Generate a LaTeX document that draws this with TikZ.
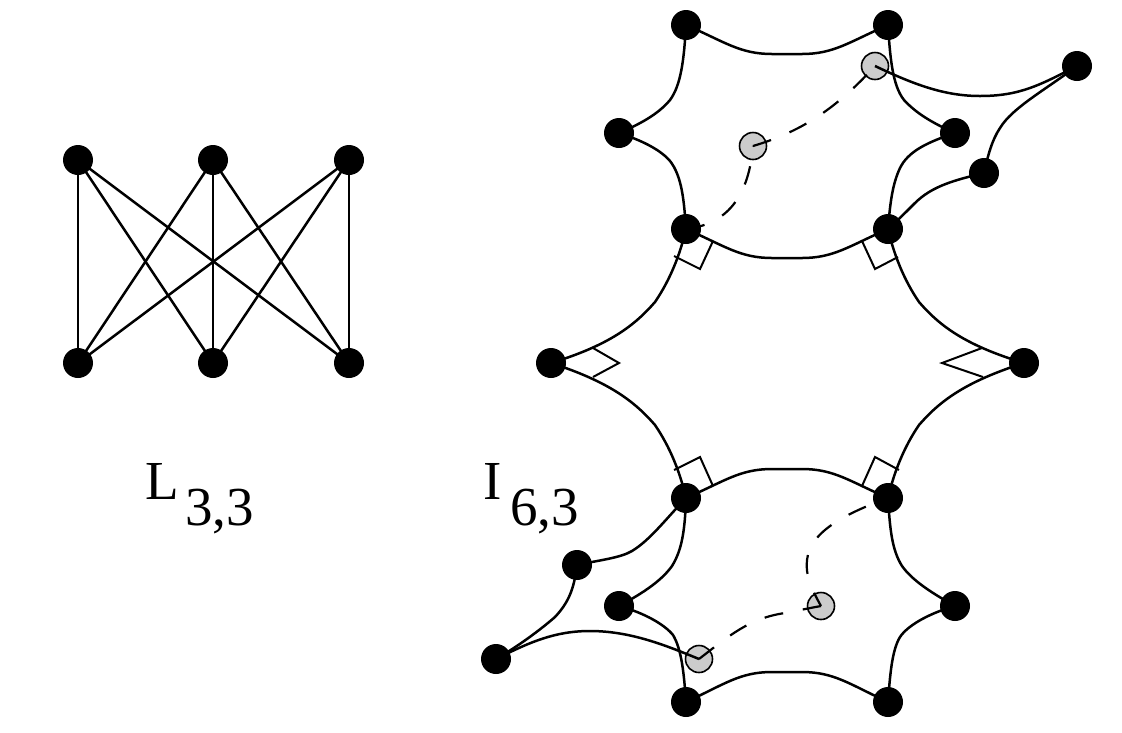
\documentclass[tikz,border=0pt]{standalone}
\usepackage{fontspec}
\setmainfont{Liberation Serif}
\tikzset{
 blk/.style={circle,fill=black,draw=none,minimum size=30pt,inner sep=0pt},
 gry/.style={circle,fill=black!20,draw=black,line width=1.6pt,minimum size=27pt,inner sep=0pt},
 hedge/.style={line width=2.5pt,line join=round},
 dsh/.style={line width=2.2pt,dash pattern=on 19pt off 20pt},
 ramark/.style={line width=2pt,line join=miter},
 lab/.style={font=\fontsize{55}{55}\selectfont,inner sep=0pt,anchor=base west},
}
\begin{document}
\begin{tikzpicture}[x=1pt,y=-1pt]
\useasboundingbox (0,0) rectangle (1122,732);
% L33
\node[blk] (a1) at (78,160) {}; \node[blk] (a2) at (213,160) {}; \node[blk] (a3) at (349,160) {};
\node[blk] (b1) at (78,363) {}; \node[blk] (b2) at (213,363) {}; \node[blk] (b3) at (349,363) {};
\foreach \u in {a1,a2,a3}\foreach \v in {b1,b2,b3}{\draw[hedge] (\u.center) -- (\v.center);}
\node[lab] (l1) at (145,499) {L};
\node[lab] (l2) at (185,525) {3,3};
\node[lab] (l3) at (483,499) {I};
\node[lab] (l4) at (510,525) {6,3};
% top hexagon
\node[blk] (t1) at (686,25) {}; \node[blk] (t2) at (888,25) {};
\node[blk] (tl) at (619,133) {}; \node[blk] (tr) at (955,133) {};
\node[blk] (t3) at (686,229) {}; \node[blk] (t4) at (888,229) {};
\node[blk] (far1) at (1077,66) {}; \node[blk] (e1) at (984,173) {};
\node[gry] (g1) at (875,66) {}; \node[gry] (g2) at (753,146) {};
% middle
\node[blk] (ml) at (551,363) {}; \node[blk] (mr) at (1024,363) {};
% lower hexagon
\node[blk] (u1) at (686,498) {}; \node[blk] (u2) at (888,498) {};
\node[blk] (ul) at (619,606) {}; \node[blk] (ur) at (955,606) {};
\node[blk] (u3) at (686,702) {}; \node[blk] (u4) at (888,702) {};
\node[blk] (far2) at (496,659) {}; \node[blk] (e2) at (577,565) {};
\node[gry] (g3) at (699,659) {}; \node[gry] (g4) at (821,606) {};
% top hex edges
\draw[hedge] (t1.center) .. controls (725,42) and (740,54) .. (772,54) -- (802,54) .. controls (834,54) and (849,42) .. (t2.center);
\draw[hedge] (t1.center) .. controls (684,60) and (681,85) .. (670,100) .. controls (660,112) and (645,122) .. (tl.center);
\draw[hedge] (tl.center) .. controls (650,143) and (668,155) .. (674,167) .. controls (682,182) and (684,200) .. (t3.center);
\draw[hedge] (t2.center) .. controls (890,55) and (892,85) .. (904,100) .. controls (915,112) and (930,122) .. (tr.center);
\draw[hedge] (tr.center) .. controls (925,143) and (908,152) .. (900,168) .. controls (892,185) and (890,205) .. (t4.center);
\draw[hedge] (t3.center) .. controls (725,246) and (740,258) .. (772,258) -- (802,258) .. controls (834,258) and (849,246) .. (t4.center);
% far top
\draw[hedge] (g1.center) .. controls (915,85) and (945,96) .. (980,96) .. controls (1020,96) and (1040,85) .. (far1.center);
\draw[hedge] (far1.center) .. controls (1045,90) and (1012,108) .. (1000,128) .. controls (992,140) and (988,155) .. (e1.center);
\draw[hedge] (e1.center) .. controls (955,180) and (932,186) .. (915,203) .. controls (905,213) and (896,222) .. (t4.center);
% dashed top
\draw[dsh] (g2.center) .. controls (800,132) and (835,110) .. (g1.center);
\draw[dsh] (t3.center) .. controls (720,225) and (748,205) .. (g2.center);
% middle
\draw[hedge] (t3.center) .. controls (680,255) and (670,280) .. (655,302) .. controls (635,325) and (610,345) .. (ml.center);
\draw[hedge] (t4.center) .. controls (894,255) and (904,280) .. (919,302) .. controls (939,325) and (964,345) .. (mr.center);
\draw[hedge] (u1.center) .. controls (680,472) and (670,447) .. (655,425) .. controls (635,402) and (610,382) .. (ml.center);
\draw[hedge] (u2.center) .. controls (894,472) and (904,447) .. (919,425) .. controls (939,402) and (964,382) .. (mr.center);
% lower hex
\draw[hedge] (u1.center) .. controls (725,481) and (740,469) .. (772,469) -- (802,469) .. controls (834,469) and (849,481) .. (u2.center);
\draw[hedge] (u3.center) .. controls (725,684) and (740,672) .. (772,672) -- (802,672) .. controls (834,672) and (849,684) .. (u4.center);
\draw[hedge] (u1.center) .. controls (685,530) and (682,550) .. (672,566) .. controls (662,580) and (645,592) .. (ul.center);
\draw[hedge] (ul.center) .. controls (645,613) and (665,625) .. (673,635) .. controls (682,650) and (684,675) .. (u3.center);
\draw[hedge] (u2.center) .. controls (890,530) and (892,550) .. (902,566) .. controls (912,580) and (930,592) .. (ur.center);
\draw[hedge] (ur.center) .. controls (930,613) and (908,625) .. (900,637) .. controls (892,650) and (890,675) .. (u4.center);
% far lower
\draw[hedge] (u1.center) .. controls (665,520) and (650,540) .. (632,551) .. controls (620,558) and (600,560) .. (e2.center);
\draw[hedge] (e2.center) .. controls (574,590) and (568,603) .. (555,617) .. controls (540,630) and (520,645) .. (far2.center);
\draw[hedge] (far2.center) .. controls (530,642) and (555,631) .. (590,631) .. controls (630,631) and (665,645) .. (g3.center);
% dashed lower
\draw[dsh] (g3.center) .. controls (730,635) and (750,618) .. (785,613) .. controls (795,611) and (810,608) .. (g4.center);
\draw[dsh,dash phase=4pt] (g4.center) .. controls (812,590) and (805,575) .. (807,560) .. controls (810,530) and (850,512) .. (u2.center);
% right-angle marks
\draw[ramark] (674,256) -- (700,269) -- (713,241);
\draw[ramark] (898,257) -- (875,269) -- (862,241);
\draw[ramark] (593,348) -- (619,363) -- (593,377);
\draw[ramark] (982,348) -- (942,363) -- (983,377);
\draw[ramark] (674,470) -- (700,457) -- (713,486);
\draw[ramark] (899,470) -- (875,457) -- (862,486);
\end{tikzpicture}
\end{document}
